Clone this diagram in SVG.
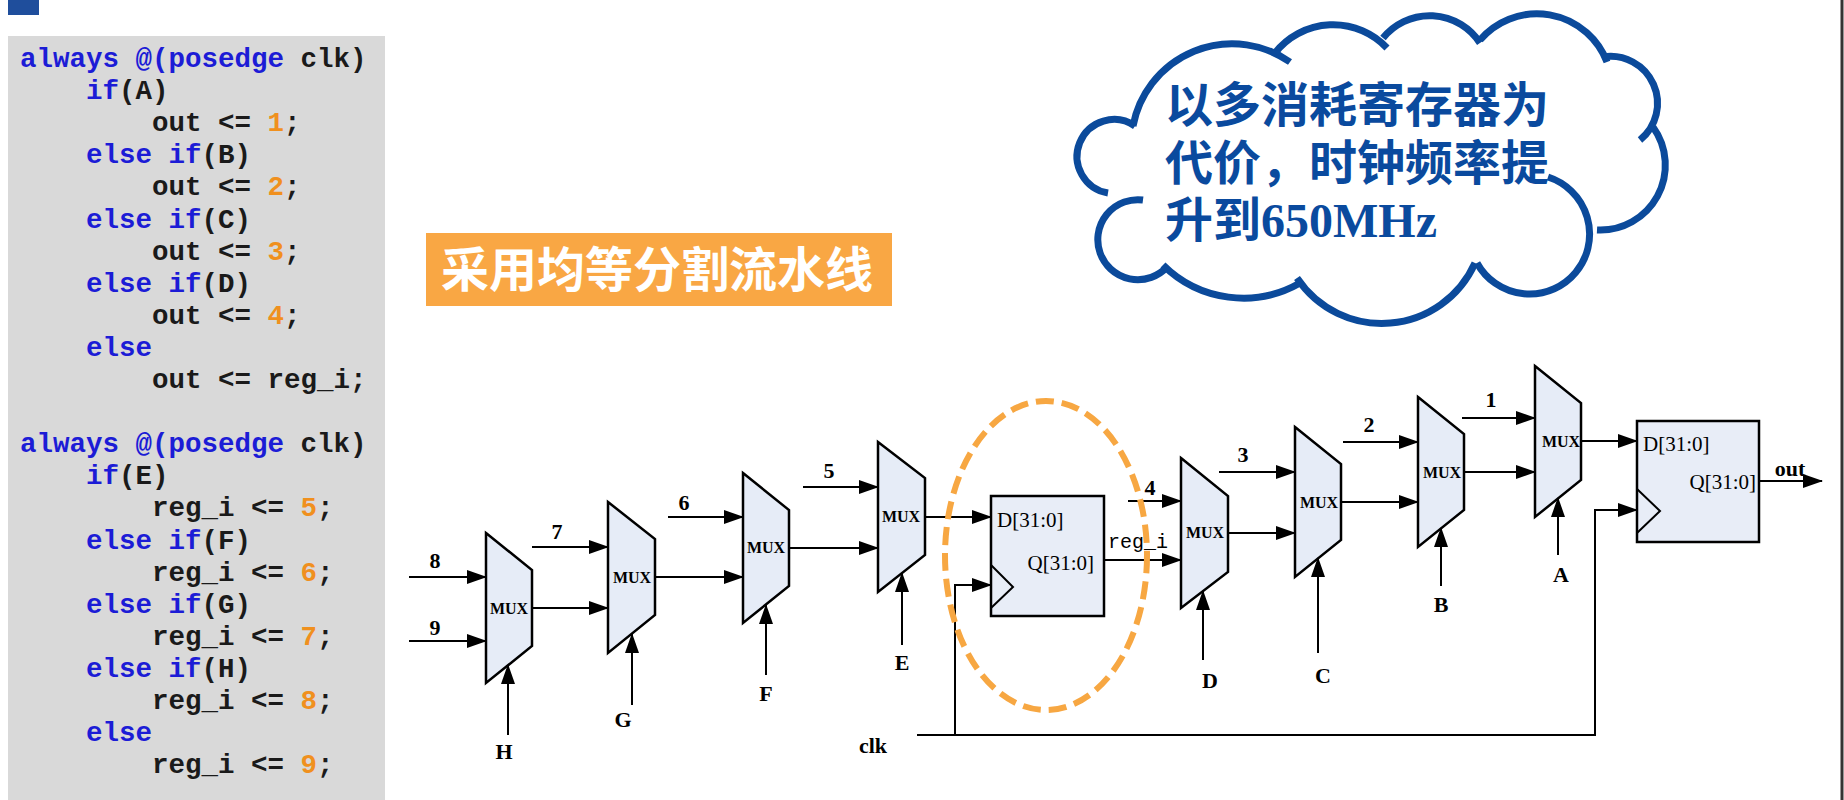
<svg xmlns="http://www.w3.org/2000/svg" width="1844" height="800" viewBox="0 0 1844 800">
<style>
.code{font-family:"Liberation Mono","DejaVu Sans Mono",monospace;font-size:27.5px;font-weight:bold;white-space:pre;fill:#1a1a1a}
.kw{fill:#1c1cd6}
.num{fill:#f0901e}
.mux{fill:#e6ecf7;stroke:#000;stroke-width:2.5}
.reg{fill:#e8edf7;stroke:#000;stroke-width:2.5}
.mlab{font-family:"Liberation Serif",serif;font-size:16px;font-weight:bold;text-anchor:middle;fill:#000}
.lab{font-family:"Liberation Serif",serif;font-size:22px;font-weight:bold;text-anchor:middle;fill:#000}
.port{font-family:"Liberation Serif",serif;font-size:21px;fill:#000}
.wire{stroke:#000;stroke-width:2;fill:none}
.arr{marker-end:url(#ah)}
.bump{fill:none;stroke:#0b4a9b;stroke-width:7;stroke-linecap:butt}
.ctext{font-family:"Noto Sans CJK SC","Noto Sans",sans-serif;font-size:48px;font-weight:bold;fill:#0a4a9e}
</style>
<defs>
<marker id="ah" markerWidth="20" markerHeight="14" refX="19" refY="7" orient="auto" markerUnits="userSpaceOnUse">
<path d="M0,0 L20,7 L0,14 z" fill="#000"/>
</marker>
</defs>
<rect width="1844" height="800" fill="#fff"/>
<rect x="8" y="0" width="31" height="15" fill="#1f4e9c"/>
<line x1="1842" y1="0" x2="1842" y2="800" stroke="#333" stroke-width="3"/>

<g id="code">
<rect x="8" y="36" width="377" height="764" fill="#d9d9d9"/>
<text class="code" xml:space="preserve" x="20" y="67"><tspan class="kw">always @(posedge</tspan> clk)</text>
<text class="code" xml:space="preserve" x="20" y="99.1">    <tspan class="kw">if</tspan>(A)</text>
<text class="code" xml:space="preserve" x="20" y="131.2">        out &lt;= <tspan class="num">1</tspan>;</text>
<text class="code" xml:space="preserve" x="20" y="163.3">    <tspan class="kw">else if</tspan>(B)</text>
<text class="code" xml:space="preserve" x="20" y="195.4">        out &lt;= <tspan class="num">2</tspan>;</text>
<text class="code" xml:space="preserve" x="20" y="227.5">    <tspan class="kw">else if</tspan>(C)</text>
<text class="code" xml:space="preserve" x="20" y="259.6">        out &lt;= <tspan class="num">3</tspan>;</text>
<text class="code" xml:space="preserve" x="20" y="291.7">    <tspan class="kw">else if</tspan>(D)</text>
<text class="code" xml:space="preserve" x="20" y="323.8">        out &lt;= <tspan class="num">4</tspan>;</text>
<text class="code" xml:space="preserve" x="20" y="355.9">    <tspan class="kw">else</tspan></text>
<text class="code" xml:space="preserve" x="20" y="388">        out &lt;= reg_i;</text>
<text class="code" xml:space="preserve" x="20" y="452.2"><tspan class="kw">always @(posedge</tspan> clk)</text>
<text class="code" xml:space="preserve" x="20" y="484.3">    <tspan class="kw">if</tspan>(E)</text>
<text class="code" xml:space="preserve" x="20" y="516.4">        reg_i &lt;= <tspan class="num">5</tspan>;</text>
<text class="code" xml:space="preserve" x="20" y="548.5">    <tspan class="kw">else if</tspan>(F)</text>
<text class="code" xml:space="preserve" x="20" y="580.6">        reg_i &lt;= <tspan class="num">6</tspan>;</text>
<text class="code" xml:space="preserve" x="20" y="612.7">    <tspan class="kw">else if</tspan>(G)</text>
<text class="code" xml:space="preserve" x="20" y="644.8">        reg_i &lt;= <tspan class="num">7</tspan>;</text>
<text class="code" xml:space="preserve" x="20" y="676.9">    <tspan class="kw">else if</tspan>(H)</text>
<text class="code" xml:space="preserve" x="20" y="709">        reg_i &lt;= <tspan class="num">8</tspan>;</text>
<text class="code" xml:space="preserve" x="20" y="741.1">    <tspan class="kw">else</tspan></text>
<text class="code" xml:space="preserve" x="20" y="773.2">        reg_i &lt;= <tspan class="num">9</tspan>;</text>
</g>

<g id="banner">
<rect x="426" y="233" width="466" height="73" fill="#f9a744"/>
<text x="441" y="287" font-family="Noto Sans CJK SC, Noto Sans, sans-serif" font-size="48" font-weight="bold" fill="#fff">采用均等分割流水线</text>
</g>

<g id="cloud">
<path class="bump" d="M1133,126 A101,101 0 0 1 1290,62"/>
<path class="bump" d="M1275,53 A74,74 0 0 1 1387,48"/>
<path class="bump" d="M1383,38 A60,60 0 0 1 1480,43"/>
<path class="bump" d="M1480,40 A75,75 0 0 1 1607,62"/>
<path class="bump" d="M1603,57 A47,47 0 0 1 1640,140"/>
<path class="bump" d="M1653,127 A65,65 0 0 1 1597,230"/>
<path class="bump" d="M1548,177 A60,60 0 1 1 1477,263"/>
<path class="bump" d="M1475,263 A102,102 0 0 1 1297,278"/>
<path class="bump" d="M1300,283 A114,114 0 0 1 1163,265"/>
<path class="bump" d="M1167,267 A40,40 0 1 1 1143,200"/>
<path class="bump" d="M1108,193 A37,37 0 1 1 1135,126"/>
<text class="ctext" x="1165" y="122">以多消耗寄存器为</text>
<text class="ctext" x="1165" y="180">代价，时钟频率提</text>
<text class="ctext" x="1165" y="237">升到<tspan font-family="Liberation Serif, serif">650MHz</tspan></text>
</g>

<g id="mux-H">
<polygon class="mux" points="486,533 532,570 532,646 486,683"/>
<text class="mlab" x="509" y="614">MUX</text>
</g>
<g id="mux-G">
<polygon class="mux" points="608,502 655,539 655,615 608,653"/>
<text class="mlab" x="632" y="583">MUX</text>
</g>
<g id="mux-F">
<polygon class="mux" points="743,473 789,510 789,586 743,623"/>
<text class="mlab" x="766" y="553">MUX</text>
</g>
<g id="mux-E">
<polygon class="mux" points="878,442 925,478 925,555 878,592"/>
<text class="mlab" x="901" y="522">MUX</text>
</g>
<g id="reg-i">
<rect class="reg" x="991" y="496" width="113" height="120"/>
<polyline points="991,565 1013,587 991,608" fill="none" stroke="#000" stroke-width="2"/>
<text class="port" x="997" y="527">D[31:0]</text>
<text class="port" x="1094" y="570" text-anchor="end">Q[31:0]</text>
</g>
<g id="mux-D">
<polygon class="mux" points="1181,458 1228,496 1228,572 1181,608"/>
<text class="mlab" x="1205" y="538">MUX</text>
</g>
<g id="mux-C">
<polygon class="mux" points="1295,427 1341,464 1341,540 1295,577"/>
<text class="mlab" x="1319" y="508">MUX</text>
</g>
<g id="mux-B">
<polygon class="mux" points="1418,397 1464,434 1464,510 1418,547"/>
<text class="mlab" x="1442" y="478">MUX</text>
</g>
<g id="mux-A">
<polygon class="mux" points="1535,366 1581,403 1581,480 1535,517"/>
<text class="mlab" x="1561" y="447">MUX</text>
</g>
<g id="reg-out">
<rect class="reg" x="1637" y="421" width="122" height="121"/>
<polyline points="1637,489 1660,511 1637,533" fill="none" stroke="#000" stroke-width="2"/>
<text class="port" x="1643" y="451">D[31:0]</text>
<text class="port" x="1756" y="489" text-anchor="end">Q[31:0]</text>
</g>

<g id="connectors">
<line class="wire arr" x1="409" y1="577" x2="486" y2="577"/>
<line class="wire arr" x1="409" y1="641" x2="486" y2="641"/>
<line class="wire arr" x1="532" y1="608" x2="608" y2="608"/>
<line class="wire arr" x1="532" y1="547" x2="608" y2="547"/>
<line class="wire arr" x1="508" y1="735" x2="508" y2="665"/>
<line class="wire arr" x1="655" y1="577" x2="743" y2="577"/>
<line class="wire arr" x1="668" y1="517" x2="743" y2="517"/>
<line class="wire arr" x1="632" y1="705" x2="632" y2="634"/>
<line class="wire arr" x1="789" y1="548" x2="878" y2="548"/>
<line class="wire arr" x1="803" y1="487" x2="878" y2="487"/>
<line class="wire arr" x1="766" y1="675" x2="766" y2="605"/>
<line class="wire arr" x1="925" y1="517" x2="991" y2="517"/>
<line class="wire arr" x1="902" y1="645" x2="902" y2="573"/>
<line class="wire arr" x1="1104" y1="560" x2="1181" y2="560"/>
<line class="wire arr" x1="1128" y1="501" x2="1181" y2="501"/>
<line class="wire arr" x1="1203" y1="660" x2="1203" y2="591"/>
<line class="wire arr" x1="1228" y1="533" x2="1295" y2="533"/>
<line class="wire arr" x1="1219" y1="472" x2="1295" y2="472"/>
<line class="wire arr" x1="1318" y1="653" x2="1318" y2="558"/>
<line class="wire arr" x1="1341" y1="502" x2="1418" y2="502"/>
<line class="wire arr" x1="1343" y1="442" x2="1418" y2="442"/>
<line class="wire arr" x1="1441" y1="586" x2="1441" y2="528"/>
<line class="wire arr" x1="1464" y1="472" x2="1535" y2="472"/>
<line class="wire arr" x1="1462" y1="418" x2="1535" y2="418"/>
<line class="wire arr" x1="1558" y1="555" x2="1558" y2="498"/>
<line class="wire arr" x1="1581" y1="441" x2="1637" y2="441"/>
<line class="wire arr" x1="1759" y1="481" x2="1822" y2="481"/>
<polyline class="wire arr" points="917,735 1595,735 1595,510 1637,510"/>
<polyline class="wire arr" points="955,735 955,585 991,585"/>
</g>

<g id="labels">
<text class="lab" x="435" y="568">8</text>
<text class="lab" x="435" y="635">9</text>
<text class="lab" x="557" y="539">7</text>
<text class="lab" x="684" y="510">6</text>
<text class="lab" x="829" y="478">5</text>
<text class="lab" x="1150" y="495">4</text>
<text class="lab" x="1243" y="462">3</text>
<text class="lab" x="1369" y="432">2</text>
<text class="lab" x="1491" y="407">1</text>
<text class="lab" x="504" y="759">H</text>
<text class="lab" x="623" y="727">G</text>
<text class="lab" x="766" y="701">F</text>
<text class="lab" x="902" y="670">E</text>
<text class="lab" x="1210" y="688">D</text>
<text class="lab" x="1323" y="683">C</text>
<text class="lab" x="1441" y="612">B</text>
<text class="lab" x="1561" y="582">A</text>
<text class="lab" x="873" y="753">clk</text>
<text class="lab" x="1790" y="476" font-size="23">out</text>
<text x="1108" y="548" font-family="Liberation Mono, monospace" font-size="20" fill="#000">reg_i</text>
</g>

<g id="highlight">
<ellipse cx="1046" cy="555.5" rx="101" ry="154.5" fill="none" stroke="#f7a742" stroke-width="6" stroke-dasharray="18 8"/>
</g>
</svg>
